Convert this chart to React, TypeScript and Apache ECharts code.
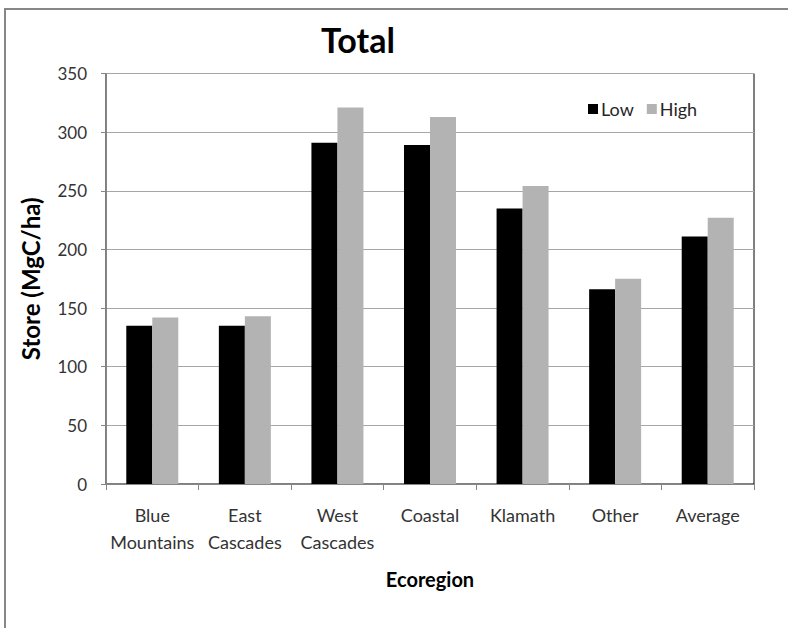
import React, { useEffect, useRef } from "react";
import * as echarts from "echarts";

const categories = [
  "Blue\nMountains",
  "East\nCascades",
  "West\nCascades",
  "Coastal",
  "Klamath",
  "Other",
  "Average",
];
const lowValues = [135, 135, 291, 289, 235, 166, 211];
const highValues = [142, 143, 321, 313, 254, 175, 227];
const yTicks = { min: 0, max: 350, interval: 50 };

const FONT = "Lato";

export default function App() {
  const ref = useRef<HTMLDivElement>(null);
  useEffect(() => {
    if (!ref.current) return;
    const chart = echarts.init(ref.current, null, { renderer: "svg" });
    chart.setOption({
      animation: false,
      backgroundColor: "#ffffff",
      textStyle: { fontFamily: FONT },
      title: {
        text: "Total",
        left: 321,
        top: 22,
        padding: 0,
        textStyle: { fontFamily: FONT, fontWeight: "bold", fontSize: 34, color: "#000" },
      },
      legend: {
        data: ["Low", "High"],
        left: 588,
        top: 100,
        padding: 0,
        itemWidth: 10,
        itemHeight: 10,
        itemGap: 13,
        icon: "rect",
        textStyle: { fontFamily: FONT, fontSize: 18, color: "#262626", padding: [0, 0, 0, -2] },
      },
      graphic: [
        {
          type: "rect",
          shape: { x: 5, y: 9, width: 900, height: 900 },
          style: { fill: "none", stroke: "#878787", lineWidth: 2 },
          silent: true,
        },
      ],
      grid: {
        left: 106,
        right: 34,
        top: 73.5,
        bottom: 144,
        show: true,
        borderColor: "#000",
        borderWidth: 1,
        backgroundColor: "transparent",
      },
      xAxis: {
        type: "category",
        data: categories,
        name: "Ecoregion",
        nameLocation: "middle",
        nameGap: 85,
        nameTextStyle: { fontFamily: FONT, fontWeight: "bold", fontSize: 20, color: "#000" },
        axisLine: { lineStyle: { color: "#868686", width: 1 } },
        axisTick: { show: true, length: 6, lineStyle: { color: "#868686" } },
        axisLabel: {
          fontFamily: FONT,
          fontSize: 18,
          color: "#333",
          margin: 17,
          lineHeight: 27,
          interval: 0,
        },
      },
      yAxis: {
        type: "value",
        min: yTicks.min,
        max: yTicks.max,
        interval: yTicks.interval,
        name: "Store (MgC/ha)",
        nameLocation: "middle",
        nameGap: 64,
        nameTextStyle: { fontFamily: FONT, fontWeight: "bold", fontSize: 24, color: "#000" },
        axisLine: { show: true, lineStyle: { color: "#868686", width: 1 } },
        axisTick: { show: true, length: 5, lineStyle: { color: "#868686" } },
        axisLabel: { fontFamily: FONT, fontSize: 17, color: "#333", margin: 19 },
        splitLine: { show: true, lineStyle: { color: "#a6a6a6", width: 1 } },
      },
      series: [
        {
          name: "Low",
          type: "bar",
          data: lowValues,
          barWidth: 26,
          barGap: "0%",
          itemStyle: { color: "#000000" },
        },
        {
          name: "High",
          type: "bar",
          data: highValues,
          barWidth: 26,
          barGap: "0%",
          itemStyle: { color: "#b3b3b3" },
        },
      ],
    });
    return () => chart.dispose();
  }, []);
  return (
    <div
      ref={ref}
      style={{ position: "fixed", left: 0, top: 0, width: 788, height: 628 }}
    />
  );
}
